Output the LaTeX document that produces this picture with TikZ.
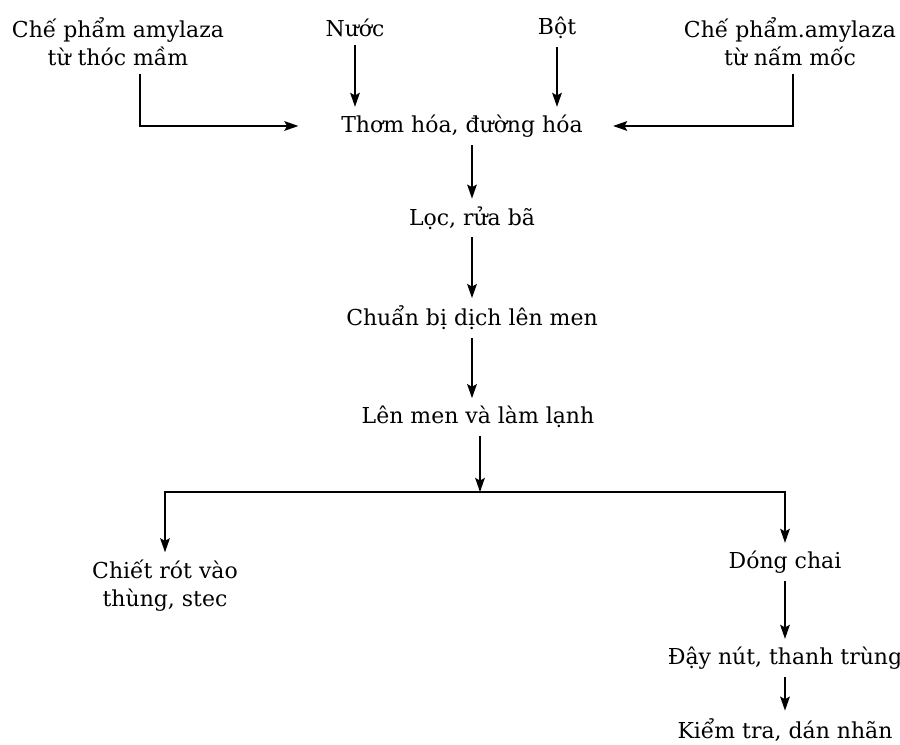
\documentclass[tikz,border=0pt]{standalone}
\usepackage{fontspec}
\setmainfont{DejaVu Serif}
\usetikzlibrary{arrows.meta, positioning}

\begin{document}
\begin{tikzpicture}[thick, line width=1pt, >={Stealth[length=8pt, width=5.5pt, inset=1.5pt]},
    font=\fontsize{12.5}{16}\selectfont]
    \tikzset{stage/.style={align=center, inner sep=4pt}}
    \useasboundingbox (0,0) rectangle (18,14.9);

    \node[stage] (mam) at (2.36,14.06) {Chế phẩm amylaza\\từ thóc mầm};
    \node[stage] (nuoc) at (7.10,14.34) {Nước};
    \node[stage] (bot) at (11.14,14.34) {Bột};
    \node[stage] (moc) at (15.80,14.06) {Chế phẩm.amylaza\\từ nấm mốc};
    \node[stage] (thom) at (9.24,12.38) {Thơm hóa, đường hóa};
    \node[stage] (loc) at (9.44,10.54) {Lọc, rửa bã};
    \node[stage] (chuan) at (9.44,8.54) {Chuẩn bị dịch lên men};
    \node[stage] (lenmen) at (9.56,6.56) {Lên men và làm lạnh};
    \node[stage] (chiet) at (3.30,3.18) {Chiết rót vào\\thùng, stec};
    \node[stage] (dong) at (15.70,3.66) {Dóng chai};
    \node[stage] (day) at (15.70,1.74) {Đậy nút, thanh trùng};
    \node[stage] (kiem) at (15.70,0.30) {Kiểm tra, dán nhãn};
    \coordinate (split) at (9.60,5.06);

    \draw[->] (nuoc) -- (nuoc |- thom.north);
    \draw[->] (bot) -- (bot |- thom.north);
    \draw[->] ([xshift=0.44cm]mam.south) |- ([xshift=-0.7cm]thom.west);
    \draw[->] ([xshift=0.06cm]moc.south) |- ([xshift=0.45cm]thom.east);
    \draw[->] (thom.south -| loc) -- (loc);
    \draw[->] (loc) -- (chuan);
    \draw[->] (chuan) -- (chuan |- lenmen.north);
    \draw[->] (lenmen.south -| split) -- (split);
    \draw[->] (split) -| (chiet);
    \draw[->] (split) -| (dong);
    \draw[->] (dong) -- (day);
    \draw[->] (day) -- (kiem);
\end{tikzpicture}
\end{document}
